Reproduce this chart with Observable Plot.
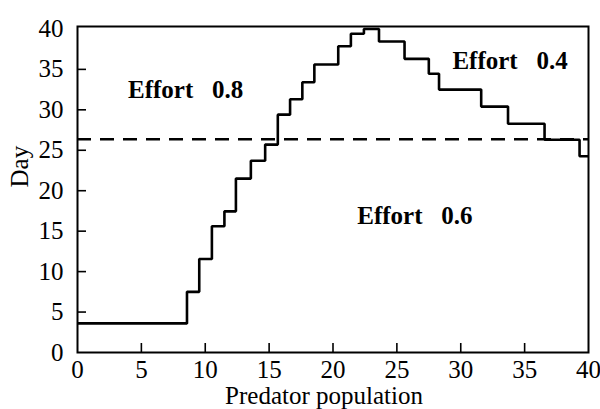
<!DOCTYPE html>
<html>
<head>
<meta charset="utf-8">
<script src="https://cdn.jsdelivr.net/npm/d3@7"></script>
<script src="https://cdn.jsdelivr.net/npm/@observablehq/plot@0.6"></script>
<style>
  html, body { margin: 0; padding: 0; background: white; }
</style>
</head>
<body>
<script>
// Boundary between effort regimes: each step starts at a predator population
// and holds the switching day until the next step.
const population = [0, 8.57, 9.53, 10.52, 11.5, 12.4, 13.57, 14.69, 15.68, 16.64, 17.6, 18.54,
  20.41, 21.4, 22.42, 23.6, 25.6, 27.5, 28.3, 31.6, 33.7, 36.56, 39.3, 40];
const switchDay = [3.6, 7.5, 11.56, 15.6, 17.45, 21.5, 23.7, 25.7, 29.4, 31.3, 33.4, 35.6,
  37.85, 39.4, 40, 38.45, 36.3, 34.45, 32.5, 30.4, 28.27, 26.3, 24.26, 24.26];

// Horizontal boundary between effort 0.8 and effort 0.6
const dashedDay = [26.35];

// Region labels
const regionLabels = ["Effort\u00a0\u00a0\u00a00.8", "Effort\u00a0\u00a0\u00a00.6", "Effort\u00a0\u00a0\u00a00.4"];
const regionPopulation = [3.95, 21.9, 29.35];
const regionDay = [31.4, 15.9, 35.07];

const xTicks = [0, 5, 10, 15, 20, 25, 30, 35, 40];
const yTicks = [0, 5, 10, 15, 20, 25, 30, 35, 40];

const W = 600, H = 409;
const mL = 77, mR = 12, mT = 26, mB = 57;
const innerW = W - mL - mR, innerH = H - mT - mB;
const tickLen = 9;

const steps = population.map((p, i) => ({p, d: switchDay[i]}));
const labels = regionLabels.map((t, i) => ({t, p: regionPopulation[i], d: regionDay[i]}));

const chart = Plot.plot({
  width: W,
  height: H,
  marginLeft: mL,
  marginRight: mR,
  marginTop: mT,
  marginBottom: mB,
  style: {
    fontFamily: "'Liberation Serif', 'Times New Roman', serif",
    fontSize: "25px",
    background: "white",
    color: "black",
    overflow: "visible"
  },
  x: {domain: [0, 40]},
  y: {domain: [0, 40.3]},
  marks: [
    Plot.axisX(xTicks, {tickSize: 0, tickPadding: 8, label: null, tickFormat: d => String(d)}),
    Plot.axisY(yTicks, {tickSize: 0, tickPadding: 14, label: null, tickFormat: d => String(d)}),
    // inward tick marks
    Plot.tickX(xTicks.slice(1, -1), {x: d => d, insetTop: innerH - tickLen, stroke: "black", strokeWidth: 1.6}),
    Plot.tickY(yTicks.slice(1, -1), {y: d => d, insetRight: innerW - tickLen, stroke: "black", strokeWidth: 1.6}),
    Plot.ruleY(dashedDay, {stroke: "black", strokeWidth: 2.5, strokeDasharray: "14,9"}),
    Plot.line(steps, {x: "p", y: "d", curve: "step-after", stroke: "black", strokeWidth: 2.6,
      strokeLinejoin: "miter", strokeLinecap: "butt"}),
    Plot.text(labels, {x: "p", y: "d", text: "t", textAnchor: "start", lineAnchor: "bottom",
      fontWeight: "bold", fontSize: 25, fill: "black"}),
    Plot.text(["Predator population"], {frameAnchor: "bottom", dy: 51, dx: -9, lineAnchor: "bottom",
      fontSize: 25, fill: "black"}),
    Plot.text(["Day"], {frameAnchor: "left", dx: -50, dy: -2, rotate: -90, lineAnchor: "bottom",
      fontSize: 25, fill: "black"}),
    Plot.frame({stroke: "black", strokeWidth: 2})
  ]
});

document.body.appendChild(chart);
</script>
</body>
</html>
